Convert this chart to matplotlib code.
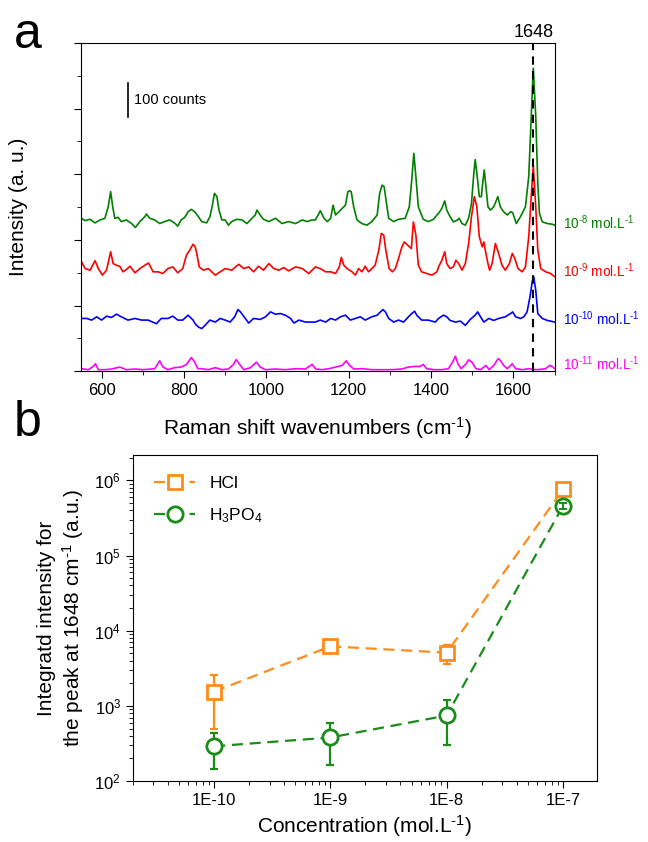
import numpy as np
import matplotlib
matplotlib.use("Agg")
import matplotlib.pyplot as plt
from matplotlib.ticker import MultipleLocator, NullFormatter

plt.rcParams["font.family"] = ["Liberation Sans", "DejaVu Sans"]
plt.rcParams["mathtext.fontset"] = "custom"
plt.rcParams["mathtext.rm"] = "Liberation Sans"
plt.rcParams["mathtext.it"] = "Liberation Sans"

# ---- panel a: SERS spectra (wavenumber, stacked intensity in counts) ----
green_wn = [551, 560, 572, 584, 596, 608, 616, 622, 627, 632, 640, 648, 660, 673, 682, 693, 705, 709,
            717, 729, 741, 753, 765, 777, 785, 793, 802, 810, 818, 826, 835, 843, 855, 863, 869, 874,
            880, 885, 892, 900, 908, 916, 928, 941, 953, 965, 973, 977, 985, 993, 1006, 1022, 1038,
            1054, 1071, 1087, 1099, 1111, 1119, 1127, 1131, 1140, 1148, 1156, 1162, 1168, 1176, 1184,
            1192, 1198, 1202, 1206, 1212, 1220, 1232, 1244, 1256, 1269, 1275, 1281, 1286, 1291, 1297,
            1309, 1321, 1337, 1347, 1353, 1358, 1363, 1369, 1381, 1393, 1406, 1414, 1418, 1426, 1433,
            1438, 1446, 1454, 1463, 1468, 1475, 1483, 1491, 1498, 1503, 1507, 1512, 1517, 1522, 1526,
            1529, 1533, 1538, 1544, 1552, 1562, 1568, 1576, 1585, 1593, 1598, 1607, 1617, 1629, 1637,
            1643, 1648, 1654, 1659, 1663, 1670, 1682, 1694, 1700]
green_int = [466, 459, 463, 452, 461, 466, 501, 547, 501, 466, 469, 456, 461, 450, 438, 456, 471, 479,
             466, 461, 450, 456, 461, 452, 442, 461, 469, 486, 493, 486, 471, 456, 452, 471, 506, 542,
             532, 491, 461, 461, 445, 456, 463, 461, 450, 466, 476, 491, 476, 463, 456, 466, 450,
             456, 450, 461, 456, 461, 461, 479, 489, 466, 456, 466, 506, 476, 486, 496,
             506, 547, 550, 547, 501, 461, 450, 445, 456, 476, 542, 567, 562, 517, 466,
             456, 463, 466, 501, 583, 664, 593, 501, 463, 456, 463, 476, 481, 496, 519,
             491, 471, 455, 460, 466, 450, 445, 466, 511, 593, 645, 593, 532, 532, 583,
             613, 562, 501, 491, 501, 532, 501, 486, 476, 486, 483, 450, 471, 501, 593,
             776, 923, 776, 572, 481, 455, 450, 448, 445]

red_wn = [551, 560, 572, 584, 592, 602, 612, 622, 628, 636, 644, 652, 660, 669, 681, 693, 705, 714, 725,
          737, 749, 761, 773, 785, 797, 806, 814, 822, 827, 831, 837, 847, 859, 876, 888, 900, 916, 933,
          945, 957, 969, 981, 993, 1006, 1018, 1030, 1042, 1054, 1071, 1087, 1103, 1115, 1119, 1131,
          1144, 1156, 1168, 1177, 1182, 1188, 1196, 1208, 1216, 1224, 1232, 1240, 1248, 1256, 1264,
          1273, 1279, 1285, 1290, 1298, 1306, 1313, 1321, 1329, 1335, 1343, 1352, 1357, 1363, 1369,
          1377, 1389, 1402, 1414, 1418, 1426, 1433, 1438, 1446, 1454, 1460, 1467, 1475, 1483, 1491,
          1498, 1505, 1511, 1517, 1524, 1528, 1533, 1538, 1542, 1548, 1556, 1564, 1572, 1580, 1590,
          1597, 1603, 1611, 1621, 1629, 1637, 1643, 1648, 1654, 1659, 1666, 1678, 1690, 1700]
red_int = [334, 313, 308, 337, 313, 293, 308, 364, 328, 323, 320, 303, 310, 320, 300, 313, 323, 330, 303,
           303, 298, 313, 318, 300, 313, 354, 369, 387, 380, 359, 318, 308, 313, 293, 303, 313, 308, 326,
           313, 318, 303, 320, 308, 328, 313, 308, 316, 306, 318, 313, 298, 313, 318, 313,
           303, 303, 298, 318, 347, 323, 313, 303, 293, 313, 303, 320, 303, 313, 323,
           369, 420, 415, 369, 313, 303, 313, 344, 379, 394, 384, 374, 455, 415, 323,
           303, 298, 293, 303, 318, 338, 364, 328, 313, 318, 338, 328, 308, 328, 389,
           471, 532, 501, 410, 379, 394, 359, 328, 308, 328, 389, 359, 323, 308, 328,
           359, 344, 313, 303, 318, 410, 532, 628, 501, 369, 313, 303, 298, 288]

blue_wn = [551, 564, 576, 588, 600, 612, 624, 636, 648, 664, 681, 697, 713, 733, 745, 761, 773, 785, 797,
           810, 822, 827, 835, 843, 851, 863, 876, 888, 900, 912, 923, 931, 937, 949, 957, 969, 985, 998,
           1010, 1022, 1034, 1046, 1059, 1067, 1079, 1095, 1111, 1119, 1131, 1144, 1156, 1168, 1180,
           1192, 1204, 1216, 1228, 1240, 1256, 1269, 1277, 1283, 1289, 1297, 1309, 1321, 1333, 1345,
           1353, 1360, 1365, 1377, 1393, 1410, 1418, 1430, 1438, 1446, 1459, 1471, 1483, 1495, 1507,
           1513, 1520, 1528, 1540, 1552, 1564, 1580, 1593, 1598, 1605, 1617, 1625, 1633, 1640, 1646,
           1649, 1654, 1659, 1670, 1682, 1700]
blue_int = [161, 161, 156, 166, 156, 168, 164, 174, 166, 156, 161, 156, 156, 145, 161, 161, 168, 156, 156,
            171, 156, 145, 135, 130, 140, 156, 150, 161, 156, 150, 166, 188, 181, 161, 147, 161, 158, 166,
            181, 174, 176, 171, 161, 147, 156, 150, 150, 150, 156, 150, 161, 156, 166,
            171, 156, 161, 166, 156, 166, 171, 181, 188, 181, 161, 150, 156, 150, 166,
            176, 183, 171, 156, 156, 150, 161, 171, 166, 155, 150, 153, 140, 158, 171,
            181, 166, 150, 161, 155, 161, 166, 176, 181, 166, 161, 166, 181, 227, 277,
            288, 247, 176, 161, 155, 150]

magenta_wn = [551, 568, 580, 585, 592, 608, 624, 644, 660, 681, 701, 729, 741, 749, 761, 777, 793, 806,
              818, 826, 834, 843, 859, 876, 892, 908, 920, 927, 934, 945, 961, 976, 985, 998, 1022, 1046,
              1071, 1095, 1111, 1120, 1135, 1152, 1168, 1184, 1194, 1200, 1212, 1232, 1256, 1281, 1306,
              1329, 1345, 1361, 1373, 1381, 1389, 1406, 1426, 1442, 1452, 1459, 1465, 1473, 1485, 1491,
              1499, 1509, 1520, 1533, 1541, 1552, 1563, 1568, 1576, 1585, 1597, 1605, 1621, 1637, 1654,
              1666, 1678, 1688, 1694, 1700]
magenta_int = [8, 5, 15, 23, 5, 5, 7, 13, 5, 7, 5, 8, 32, 13, 5, 11, 13, 21,
               42, 28, 8, 8, 5, 11, 5, 7, 21, 36, 23, 5, 11, 28, 13, 5, 7, 5,
               8, 7, 21, 7, 5, 8, 13, 18, 32, 21, 7, 8, 5, 5, 5,
               7, 13, 15, 15, 21, 8, 5, 5, 8, 28, 46, 23, 8, 23, 35,
               28, 8, 5, 18, 5, 18, 39, 33, 18, 8, 23, 8, 5, 8, 5,
               6, 8, 18, 15, 8]

spectra_labels = ["8", "9", "10", "11"]
label_levels = [454, 305, 159, 22]

# ---- panel b: integrated intensity of the 1648 cm-1 peak ----
conc = [1e-10, 1e-9, 1e-8, 1e-7]
hcl = [1550, 6200, 5100, 7.6e5]
hcl_low = [490, 5700, 3600, 7.1e5]
hcl_high = [2600, 6700, 6400, 8.1e5]
h3po4 = [290, 380, 745, 4.6e5]
h3po4_low = [145, 163, 300, 4.2e5]
h3po4_high = [435, 600, 1180, 5.0e5]

colors = ["#008000", "#ff0000", "#0000ff", "#ff00ff"]
orange = "#ff8c1a"
dgreen = "#1a8c1a"
HY = "\u2010"  # short hyphen used in the superscripts

fig = plt.figure(figsize=(6.48, 8.42), dpi=100)

# top panel
ax1 = fig.add_axes([0.125, 0.559, 0.731, 0.390])
series = [(green_wn, green_int), (red_wn, red_int), (blue_wn, blue_int), (magenta_wn, magenta_int)]
for (wn, inten), c in zip(series, colors):
    ax1.plot(wn, inten, color=c, lw=1.2)
ax1.axvline(1648, color="k", ls=(0, (4, 3)), lw=1.5)
ax1.set_xlim(550, 1700)
ax1.set_ylim(0, 1000)
ax1.xaxis.set_major_locator(MultipleLocator(200))
ax1.xaxis.set_minor_locator(MultipleLocator(100))
ax1.yaxis.set_major_locator(MultipleLocator(200))
ax1.yaxis.set_minor_locator(MultipleLocator(100))
ax1.yaxis.set_major_formatter(NullFormatter())
ax1.tick_params(which="major", length=5, labelsize=12)
ax1.tick_params(which="minor", length=3)
ax1.set_xlabel("Raman shift wavenumbers (cm$^{" + HY + "1}$)", fontsize=15, labelpad=12)
ax1.set_ylabel("Intensity (a. u.)", fontsize=15, labelpad=30)

# 100 counts scale bar
ax1.plot([663, 663], [775, 878], color="k", lw=1.2)
ax1.text(678, 826, "100 counts", fontsize=10.5, va="center")
ax1.text(1648, 1.005, "1648", transform=ax1.get_xaxis_transform(), ha="center", va="bottom", fontsize=13)

for lab, lev, c in zip(spectra_labels, label_levels, colors):
    ax1.text(1.017, lev, "10$^{" + HY + lab + "}$ mol.L$^{" + HY + "1}$",
             transform=ax1.get_yaxis_transform(), color=c, fontsize=9.8, va="center", clip_on=False)

# bottom panel
ax2 = fig.add_axes([0.205, 0.0724, 0.716, 0.3876])
hcl_err = [np.array(hcl) - np.array(hcl_low), np.array(hcl_high) - np.array(hcl)]
h3_err = [np.array(h3po4) - np.array(h3po4_low), np.array(h3po4_high) - np.array(h3po4)]
ax2.errorbar(conc, hcl, yerr=hcl_err, fmt="none", ecolor=orange, elinewidth=1.6, capsize=3,
             capthick=1.6, zorder=2)
ax2.errorbar(conc[:3], h3po4[:3], yerr=[h3_err[0][:3], h3_err[1][:3]], fmt="none", ecolor=dgreen,
             elinewidth=1.6, capsize=3, capthick=1.6, zorder=2)
ax2.plot(conc, hcl, marker="s", ls=(0, (5, 3)), color=orange, mfc="white", mec=orange,
         ms=10, mew=2, lw=1.6, label="HCl", zorder=3)
ax2.plot(conc, h3po4, marker="o", ls=(0, (5, 3)), color=dgreen, mfc="white", mec=dgreen,
         ms=11, mew=2, lw=1.6, label="H$_3$PO$_4$", zorder=3)
# the last error bar sits inside the circle
ax2.errorbar(conc[3:], h3po4[3:], yerr=[h3_err[0][3:], h3_err[1][3:]], fmt="none", ecolor=dgreen,
             elinewidth=1.4, capsize=3, capthick=1.4, zorder=4)
ax2.set_xscale("log")
ax2.set_yscale("log")
ax2.set_xlim(2e-11, 1.95e-7)
ax2.set_ylim(100, 2.2e6)
ax2.set_xticks(conc)
ax2.set_xticklabels(["1E-10", "1E-9", "1E-8", "1E-7"])
ax2.tick_params(which="major", length=5, labelsize=12)
ax2.tick_params(which="minor", length=3)
ax2.set_xlabel("Concentration (mol.L$^{" + HY + "1}$)", fontsize=15, labelpad=4)
ax2.set_ylabel("Integratd intensity for\nthe peak at 1648 cm$^{" + HY + "1}$ (a.u.)", fontsize=15, labelpad=6)
ax2.legend(loc="upper left", frameon=False, fontsize=12.5, handlelength=2.4, borderaxespad=0.8,
           labelspacing=0.9)

fig.text(0.043, 0.958, "a", fontsize=36, ha="center", va="center")
fig.text(0.043, 0.498, "b", fontsize=36, ha="center", va="center")

fig.savefig("out.png", dpi=100)
